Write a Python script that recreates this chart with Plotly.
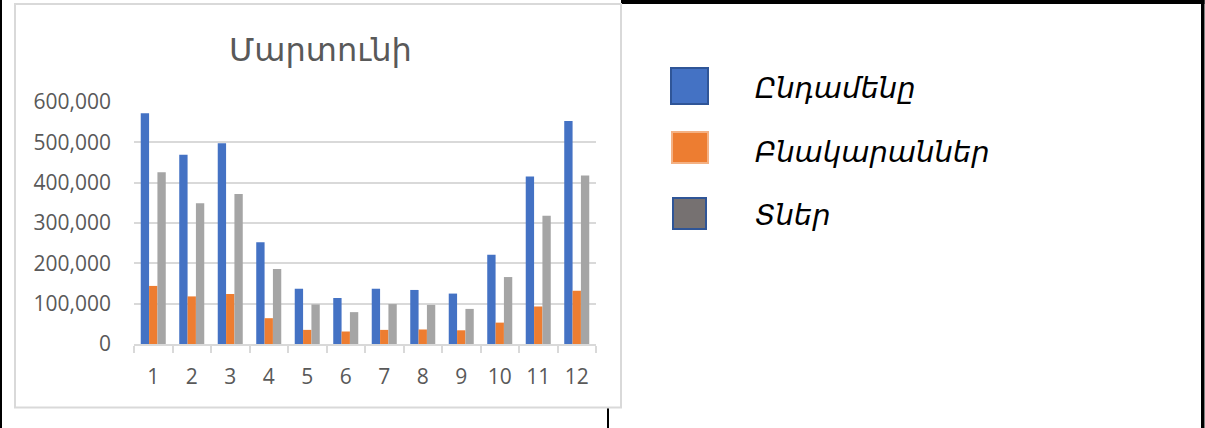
import plotly.graph_objects as go

# Monthly figures for Martuni
months = [str(m) for m in range(1, 13)]
total = [572000, 469000, 498000, 252000, 137000, 114000, 137000, 134000, 125000, 221000, 415000, 553000]
apartments = [144000, 118000, 124000, 64000, 35000, 31000, 35000, 36000, 34000, 53000, 93000, 132000]
houses = [426000, 349000, 372000, 186000, 98000, 79000, 99000, 97000, 87000, 166000, 318000, 418000]

series_names = ["Ընդամենը", "Բնակարաններ", "Տներ"]
series_colors = ["#4472C4", "#ED7D31", "#A5A5A5"]
title_text = "Մարտունի"

W, H = 1205, 428
L, R, T, B = 134, 596, 102, 344  # plot area in pixels


def px(x):
    return (x - L) / (R - L)


def py(y):
    return (B - y) / (B - T)


fig = go.Figure()
for name, vals, col in zip(series_names, [total, apartments, houses], series_colors):
    fig.add_trace(go.Bar(x=months, y=vals, name=name, marker=dict(color=col, line=dict(width=0))))

shapes = []
# table cell borders
shapes.append(dict(type="rect", xref="paper", yref="paper", x0=px(0), x1=px(2), y0=py(0), y1=py(H),
                   fillcolor="black", line=dict(width=0), layer="below"))
shapes.append(dict(type="rect", xref="paper", yref="paper", x0=px(1201), x1=px(1204.5), y0=py(0), y1=py(H),
                   fillcolor="black", line=dict(width=0), layer="below"))
shapes.append(dict(type="rect", xref="paper", yref="paper", x0=px(621), x1=px(1204.5), y0=py(0), y1=py(4),
                   fillcolor="black", line=dict(width=0), layer="below"))
shapes.append(dict(type="rect", xref="paper", yref="paper", x0=px(607), x1=px(609), y0=py(300), y1=py(H),
                   fillcolor="black", line=dict(width=0), layer="below"))
# chart area
shapes.append(dict(type="rect", xref="paper", yref="paper", x0=px(15), x1=px(621), y0=py(4), y1=py(407.5),
                   fillcolor="white", line=dict(color="#D9D9D9", width=2), layer="below"))

# key swatches
swatches = [
    (671, 68, 708, 104, "#4472C4", "#2F5597"),
    (672, 132, 708, 163, "#ED7D31", "#F4B183"),
    (673, 198, 706, 229, "#767171", "#2F5597"),
]
for x0, y0, x1, y1, fill, edge in swatches:
    shapes.append(dict(type="rect", xref="paper", yref="paper", x0=px(x0), x1=px(x1), y0=py(y0), y1=py(y1),
                       fillcolor=fill, line=dict(color=edge, width=2), layer="above"))

annotations = [
    dict(text=title_text, xref="paper", yref="paper", x=px(320), y=py(50), showarrow=False,
         xanchor="center", yanchor="middle", font=dict(family="DejaVu Sans", size=32, color="#595959")),
]
label_y = [88, 152, 215]
for name, yy in zip(series_names, label_y):
    annotations.append(dict(text="<i>" + name + "</i>", xref="paper", yref="paper", x=px(753), y=py(yy),
                            showarrow=False, xanchor="left", yanchor="middle",
                            font=dict(family="DejaVu Sans", size=29, color="black")))

fig.update_layout(
    width=W, height=H,
    margin=dict(l=L, r=W - R, t=T, b=H - B, pad=0),
    paper_bgcolor="white", plot_bgcolor="rgba(0,0,0,0)",
    barmode="group", bargap=0.35, bargroupgap=0,
    showlegend=False,
    shapes=shapes, annotations=annotations,
    font=dict(family="Open Sans", color="#595959", size=21),
)
fig.update_xaxes(type="category", showline=True, linecolor="#D9D9D9", linewidth=1.5,
                 ticks="outside", tickson="boundaries", ticklen=7, tickcolor="#D9D9D9", tickwidth=1.5,
                 showgrid=False, ticklabelstandoff=13, tickfont=dict(size=21, color="#595959"))
fig.update_yaxes(range=[0, 600000], dtick=100000, tickformat=",", showgrid=True, gridcolor="#D9D9D9",
                 gridwidth=1.5, zeroline=False, showline=False, ticks="", ticklabelstandoff=22,
                 tickfont=dict(size=21, color="#595959"))

fig.write_html("out.html")
